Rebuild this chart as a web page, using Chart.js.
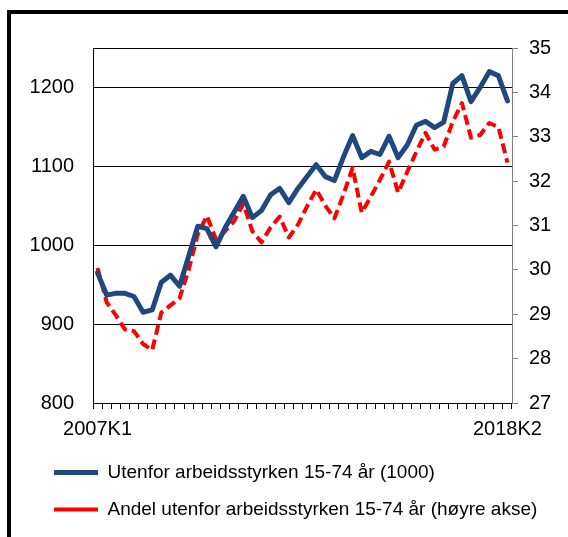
<!DOCTYPE html>
<html>
<head>
<meta charset="utf-8">
<script src="https://cdn.jsdelivr.net/npm/chart.js@4.4.1/dist/chart.umd.min.js"></script>
<style>
  html, body { margin: 0; padding: 0; background: #fff; overflow: hidden; }
  #frame { position: absolute; left: 7px; top: 10px; width: 620px; height: 620px; border: 4px solid #000; }
  #wrap { position: absolute; left: 0; top: 0; width: 568px; height: 537px; }
</style>
</head>
<body>
<div id="frame"></div>
<div id="wrap"><canvas id="chart" width="568" height="537"></canvas></div>
<script>
// quarters 2007K1 - 2018K2
var quarters = [
  '2007K1','2007K2','2007K3','2007K4','2008K1','2008K2','2008K3','2008K4',
  '2009K1','2009K2','2009K3','2009K4','2010K1','2010K2','2010K3','2010K4',
  '2011K1','2011K2','2011K3','2011K4','2012K1','2012K2','2012K3','2012K4',
  '2013K1','2013K2','2013K3','2013K4','2014K1','2014K2','2014K3','2014K4',
  '2015K1','2015K2','2015K3','2015K4','2016K1','2016K2','2016K3','2016K4',
  '2017K1','2017K2','2017K3','2017K4','2018K1','2018K2'
];

// Utenfor arbeidsstyrken 15-74 år (1000), left axis
var utenfor = [
  965, 937, 939, 939, 935, 915, 918, 953, 962, 948,
  986, 1024, 1021, 998, 1022, 1042, 1062, 1035, 1044, 1064,
  1072, 1054, 1072, 1087, 1102, 1087, 1082, 1112, 1139, 1111,
  1119, 1115, 1138, 1111, 1127, 1152, 1157, 1149, 1156, 1205,
  1215, 1182, 1200, 1220, 1215, 1183
];

// Andel utenfor arbeidsstyrken 15-74 år (prosent), right axis
var andel = [
  30.04, 29.27, 28.98, 28.66, 28.62, 28.33, 28.19, 29.04, 29.2, 29.36,
  30.0, 30.8, 31.22, 30.69, 30.87, 31.1, 31.49, 30.87, 30.62, 30.96,
  31.2, 30.73, 31.02, 31.43, 31.81, 31.45, 31.16, 31.7, 32.3, 31.29,
  31.65, 32.03, 32.44, 31.74, 32.21, 32.66, 33.09, 32.71, 32.78, 33.34,
  33.76, 32.98, 33.04, 33.31, 33.22, 32.42
];

var shownTicks = ['2007K1', '2018K2'];

var fontFam = "'Liberation Sans', Arial, sans-serif";
Chart.defaults.font.family = fontFam;
Chart.defaults.color = '#000';

// push the legend a bit to the right without moving the axes
var legendShift = {
  id: 'legendShift',
  afterLayout: function(c) {
    if (c.legend) {
      c.legend.left += 16;
      c.legend.right += 16;
    }
  }
};

var ctx = document.getElementById('chart').getContext('2d');
var chart = new Chart(ctx, {
  type: 'line',
  data: {
    labels: quarters,
    datasets: [{
      label: 'Utenfor arbeidsstyrken 15-74 år (1000)',
      data: utenfor,
      yAxisID: 'y',
      borderColor: '#1f497d',
      backgroundColor: '#1f497d',
      borderWidth: 5,
      borderCapStyle: 'round',
      borderJoinStyle: 'round',
      pointRadius: 0,
      tension: 0
    }, {
      label: 'Andel utenfor arbeidsstyrken 15-74 år (høyre akse)',
      data: andel,
      yAxisID: 'y2',
      borderColor: '#ff0000',
      backgroundColor: '#ff0000',
      borderWidth: 4,
      borderDash: [10, 5],
      borderCapStyle: 'butt',
      borderJoinStyle: 'round',
      pointRadius: 0,
      tension: 0
    }]
  },
  plugins: [legendShift],
  options: {
    responsive: false,
    animation: false,
    layout: { padding: { left: 20, top: 48, right: 0, bottom: 8 } },
    plugins: {
      legend: {
        position: 'bottom',
        align: 'start',
        labels: {
          usePointStyle: true,
          pointStyle: 'line',
          pointStyleWidth: 44,
          padding: 18,
          color: '#000',
          font: { size: 19 }
        }
      },
      tooltip: { enabled: false }
    },
    scales: {
      x: {
        offset: true,
        grid: { offset: true, drawOnChartArea: false, color: '#000', tickLength: 6 },
        border: { color: '#000' },
        ticks: {
          autoSkip: false,
          maxRotation: 0,
          padding: 8,
          font: { size: 20 },
          callback: function(v, i) {
            var q = quarters[i];
            return shownTicks.indexOf(q) >= 0 ? q : '';
          }
        },
        afterFit: function(s) { s.height = 42; }
      },
      y: {
        position: 'left',
        min: 800,
        max: 1250,
        ticks: {
          stepSize: 100,
          includeBounds: false,
          padding: 19,
          font: { size: 20 },
          callback: function(v) { return String(v); }
        },
        grid: { color: '#000', drawTicks: false },
        border: { color: '#000' },
        afterFit: function(s) { s.width = 73; }
      },
      y2: {
        position: 'right',
        min: 27,
        max: 35,
        ticks: {
          stepSize: 1,
          padding: 11,
          font: { size: 20 },
          callback: function(v) { return String(v); }
        },
        grid: {
          color: function(c) { return c.tick && c.tick.value === 35 ? '#000' : 'rgba(0,0,0,0)'; },
          tickColor: '#808080',
          tickLength: 6
        },
        border: { color: '#808080' },
        afterFit: function(s) { s.width = 56; }
      }
    }
  }
});
</script>
</body>
</html>
